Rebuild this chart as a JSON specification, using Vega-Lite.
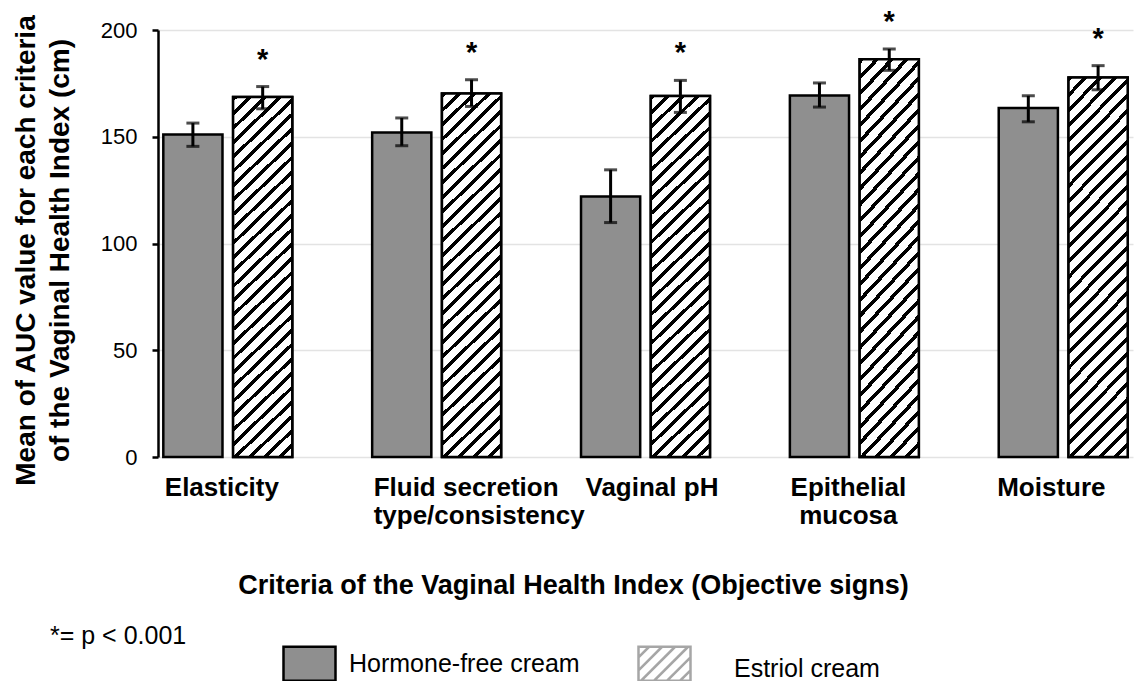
{
  "$schema": "https://vega.github.io/schema/vega-lite/v6.json",
  "width": 975,
  "height": 427,
  "autosize": {"type": "none"},
  "padding": {"left": 158, "top": 30, "right": 2, "bottom": 224},
  "background": "white",
  "config": {"view": {"stroke": null}, "font": "Liberation Sans"},
  "data": {
    "values": [
      {"crit": "Elasticity", "group": "Hormone-free cream", "mean": 151, "lo": 145.5, "hi": 156.4},
      {"crit": "Elasticity", "group": "Estriol cream", "mean": 168.6, "lo": 163.1, "hi": 173.5},
      {"crit": "Fluid secretion type/consistency", "group": "Hormone-free cream", "mean": 152, "lo": 145.8, "hi": 158.8},
      {"crit": "Fluid secretion type/consistency", "group": "Estriol cream", "mean": 170.2, "lo": 164.2, "hi": 176.7},
      {"crit": "Vaginal pH", "group": "Hormone-free cream", "mean": 122, "lo": 109.8, "hi": 134.5},
      {"crit": "Vaginal pH", "group": "Estriol cream", "mean": 169.1, "lo": 161.4, "hi": 176.4},
      {"crit": "Epithelial mucosa", "group": "Hormone-free cream", "mean": 169.3, "lo": 163.9, "hi": 175.2},
      {"crit": "Epithelial mucosa", "group": "Estriol cream", "mean": 186.3, "lo": 181.1, "hi": 191.1},
      {"crit": "Moisture", "group": "Hormone-free cream", "mean": 163.5, "lo": 157, "hi": 169.2},
      {"crit": "Moisture", "group": "Estriol cream", "mean": 177.8, "lo": 172, "hi": 183.3}
    ]
  },
  "encoding": {
    "x": {
      "field": "crit",
      "type": "nominal",
      "sort": null,
      "scale": {"paddingInner": 0.3825, "paddingOuter": 0.0254},
      "axis": {
        "title": "Criteria of the Vaginal Health Index (Objective signs)",
        "domain": false,
        "ticks": false,
        "tickSize": 0,
        "grid": false,
        "labelAngle": 0,
        "labelAlign": {"condition": {"test": "datum.value === 'Epithelial mucosa'", "value": "center"}, "value": "left"},
        "labelOffset": {"condition": [
          {"test": "datum.value === 'Epithelial mucosa'", "value": -6},
          {"test": "datum.value === 'Moisture'", "value": -66},
          {"test": "datum.value === 'Vaginal pH'", "value": -60}
        ], "value": -63},
        "labelBaseline": "top",
        "labelPadding": 17,
        "labelFontSize": 26,
        "labelFontWeight": "bold",
        "labelColor": "black",
        "labelLineHeight": 28.5,
        "labelLimit": 400,
        "labelOverlap": false,
        "labelBound": false,
        "labelExpr": "datum.label === 'Fluid secretion type/consistency' ? ['Fluid secretion', 'type/consistency'] : datum.label === 'Epithelial mucosa' ? ['Epithelial', 'mucosa'] : datum.label",
        "titleFontSize": 27,
        "titleFontWeight": "bold",
        "titleColor": "black",
        "titleX": 415,
        "titleY": 136,
        "titleAlign": "center",
        "titleBaseline": "alphabetic"
      }
    },
    "xOffset": {
      "field": "group",
      "type": "nominal",
      "scale": {"domain": ["Hormone-free cream", "Estriol cream"], "paddingInner": 0.152, "paddingOuter": 0}
    }
  },
  "layer": [
    {
      "mark": {"type": "bar", "stroke": "black", "strokeWidth": 2.5},
      "encoding": {
        "y": {
          "field": "mean",
          "type": "quantitative",
          "title": ["Mean of AUC value for each criteria", "of the Vaginal Health Index (cm)"],
          "scale": {"domain": [0, 200], "nice": false},
          "axis": {
            "values": [0, 50, 100, 150, 200],
            "domain": true,
            "domainColor": "black",
            "domainWidth": 2.5,
            "ticks": true,
            "tickColor": "black",
            "tickWidth": 2.5,
            "tickSize": 6,
            "labelFontSize": 22,
            "labelColor": "black",
            "labelPadding": 15,
            "grid": true,
            "gridColor": "#e3e3e3",
            "gridWidth": 1.5,
            "titleFontSize": 28,
            "titleFontWeight": "bold",
            "titleColor": "black",
            "titleLineHeight": 34,
            "titleAngle": -90,
            "titleX": -132,
            "titleY": 220,
            "titleAlign": "center",
            "titleBaseline": "middle"
          }
        },
        "color": {
          "field": "group",
          "type": "nominal",
          "scale": {"domain": ["Hormone-free cream", "Estriol cream"], "range": ["#8f8f8f", "#ffffff"]},
          "legend": {
            "orient": "none",
            "legendX": -108,
            "legendY": 606,
            "direction": "horizontal",
            "title": "*= p < 0.001",
            "titleOrient": "left",
            "titleAnchor": "start",
            "titleBaseline": "middle",
            "titlePadding": 95,
            "titleFontSize": 25,
            "titleFontWeight": "normal",
            "titleColor": "black",
            "titleLimit": 400,
            "symbolType": "M-1,-0.654H1V0.654H-1Z",
            "symbolSize": 2704,
            "symbolStrokeColor": "black",
            "symbolStrokeWidth": 2.5,
            "symbolOpacity": 1,
            "labelFontSize": 25,
            "labelColor": "black",
            "labelOffset": 12,
            "labelLimit": 400,
            "columnPadding": 53,
            "encode": {
              "symbols": {
                "update": {
                  "shape": {"signal": "datum.value === 'Estriol cream' ? 'M-1,-0.654H1V0.654H-1Z M-1,-0.246L-0.592,-0.654 M-1,0.254L-0.092,-0.654 M-0.9,0.654L0.408,-0.654 M-0.4,0.654L0.908,-0.654 M0.1,0.654L1,-0.246 M0.6,0.654L1,0.254' : 'M-1,-0.654H1V0.654H-1Z'"},
                  "fill": {"signal": "datum.value === 'Estriol cream' ? '#ffffff' : '#8f8f8f'"},
                  "stroke": {"signal": "datum.value === 'Estriol cream' ? '#a6a6a6' : 'black'"}
                }
              },
              "labels": {
                "update": {
                  "dx": {"signal": "datum.value === 'Estriol cream' ? 30 : 0"},
                  "dy": {"signal": "datum.value === 'Estriol cream' ? 5 : 0"}
                }
              }
            }
          }
        }
      }
    },
    {
      "transform": [{"filter": "datum.group === 'Estriol cream'"}],
      "mark": {
        "type": "bar",
        "stroke": "black",
        "strokeWidth": 2.5,
        "fill": {
          "gradient": "linear",
          "x1": 0, "y1": 0, "x2": 0.1793, "y2": 1.13,
          "stops": [
            {"offset": 0, "color": "#000"}, {"offset": 0.0114, "color": "#000"}, {"offset": 0.0114, "color": "#fff"}, {"offset": 0.0345, "color": "#fff"},
            {"offset": 0.0345, "color": "#000"}, {"offset": 0.0459, "color": "#000"}, {"offset": 0.0459, "color": "#fff"}, {"offset": 0.0690, "color": "#fff"},
            {"offset": 0.0690, "color": "#000"}, {"offset": 0.0804, "color": "#000"}, {"offset": 0.0804, "color": "#fff"}, {"offset": 0.1034, "color": "#fff"},
            {"offset": 0.1034, "color": "#000"}, {"offset": 0.1148, "color": "#000"}, {"offset": 0.1148, "color": "#fff"}, {"offset": 0.1379, "color": "#fff"},
            {"offset": 0.1379, "color": "#000"}, {"offset": 0.1493, "color": "#000"}, {"offset": 0.1493, "color": "#fff"}, {"offset": 0.1724, "color": "#fff"},
            {"offset": 0.1724, "color": "#000"}, {"offset": 0.1838, "color": "#000"}, {"offset": 0.1838, "color": "#fff"}, {"offset": 0.2069, "color": "#fff"},
            {"offset": 0.2069, "color": "#000"}, {"offset": 0.2183, "color": "#000"}, {"offset": 0.2183, "color": "#fff"}, {"offset": 0.2414, "color": "#fff"},
            {"offset": 0.2414, "color": "#000"}, {"offset": 0.2528, "color": "#000"}, {"offset": 0.2528, "color": "#fff"}, {"offset": 0.2759, "color": "#fff"},
            {"offset": 0.2759, "color": "#000"}, {"offset": 0.2873, "color": "#000"}, {"offset": 0.2873, "color": "#fff"}, {"offset": 0.3103, "color": "#fff"},
            {"offset": 0.3103, "color": "#000"}, {"offset": 0.3217, "color": "#000"}, {"offset": 0.3217, "color": "#fff"}, {"offset": 0.3448, "color": "#fff"},
            {"offset": 0.3448, "color": "#000"}, {"offset": 0.3562, "color": "#000"}, {"offset": 0.3562, "color": "#fff"}, {"offset": 0.3793, "color": "#fff"},
            {"offset": 0.3793, "color": "#000"}, {"offset": 0.3907, "color": "#000"}, {"offset": 0.3907, "color": "#fff"}, {"offset": 0.4138, "color": "#fff"},
            {"offset": 0.4138, "color": "#000"}, {"offset": 0.4252, "color": "#000"}, {"offset": 0.4252, "color": "#fff"}, {"offset": 0.4483, "color": "#fff"},
            {"offset": 0.4483, "color": "#000"}, {"offset": 0.4597, "color": "#000"}, {"offset": 0.4597, "color": "#fff"}, {"offset": 0.4828, "color": "#fff"},
            {"offset": 0.4828, "color": "#000"}, {"offset": 0.4942, "color": "#000"}, {"offset": 0.4942, "color": "#fff"}, {"offset": 0.5172, "color": "#fff"},
            {"offset": 0.5172, "color": "#000"}, {"offset": 0.5286, "color": "#000"}, {"offset": 0.5286, "color": "#fff"}, {"offset": 0.5517, "color": "#fff"},
            {"offset": 0.5517, "color": "#000"}, {"offset": 0.5631, "color": "#000"}, {"offset": 0.5631, "color": "#fff"}, {"offset": 0.5862, "color": "#fff"},
            {"offset": 0.5862, "color": "#000"}, {"offset": 0.5976, "color": "#000"}, {"offset": 0.5976, "color": "#fff"}, {"offset": 0.6207, "color": "#fff"},
            {"offset": 0.6207, "color": "#000"}, {"offset": 0.6321, "color": "#000"}, {"offset": 0.6321, "color": "#fff"}, {"offset": 0.6552, "color": "#fff"},
            {"offset": 0.6552, "color": "#000"}, {"offset": 0.6666, "color": "#000"}, {"offset": 0.6666, "color": "#fff"}, {"offset": 0.6897, "color": "#fff"},
            {"offset": 0.6897, "color": "#000"}, {"offset": 0.7011, "color": "#000"}, {"offset": 0.7011, "color": "#fff"}, {"offset": 0.7241, "color": "#fff"},
            {"offset": 0.7241, "color": "#000"}, {"offset": 0.7355, "color": "#000"}, {"offset": 0.7355, "color": "#fff"}, {"offset": 0.7586, "color": "#fff"},
            {"offset": 0.7586, "color": "#000"}, {"offset": 0.7700, "color": "#000"}, {"offset": 0.7700, "color": "#fff"}, {"offset": 0.7931, "color": "#fff"},
            {"offset": 0.7931, "color": "#000"}, {"offset": 0.8045, "color": "#000"}, {"offset": 0.8045, "color": "#fff"}, {"offset": 0.8276, "color": "#fff"},
            {"offset": 0.8276, "color": "#000"}, {"offset": 0.8390, "color": "#000"}, {"offset": 0.8390, "color": "#fff"}, {"offset": 0.8621, "color": "#fff"},
            {"offset": 0.8621, "color": "#000"}, {"offset": 0.8735, "color": "#000"}, {"offset": 0.8735, "color": "#fff"}, {"offset": 0.8966, "color": "#fff"},
            {"offset": 0.8966, "color": "#000"}, {"offset": 0.9080, "color": "#000"}, {"offset": 0.9080, "color": "#fff"}, {"offset": 0.9310, "color": "#fff"},
            {"offset": 0.9310, "color": "#000"}, {"offset": 0.9424, "color": "#000"}, {"offset": 0.9424, "color": "#fff"}, {"offset": 0.9655, "color": "#fff"},
            {"offset": 0.9655, "color": "#000"}, {"offset": 0.9769, "color": "#000"}, {"offset": 0.9769, "color": "#fff"}, {"offset": 1, "color": "#fff"}
          ]
        }
      },
      "encoding": {
        "y": {"field": "mean", "type": "quantitative", "title": ["Mean of AUC value for each criteria", "of the Vaginal Health Index (cm)"], "scale": {"domain": [0, 200], "nice": false}}
      }
    },
    {
      "mark": {"type": "rule", "color": "black", "strokeWidth": 3},
      "encoding": {
        "y": {"field": "lo", "type": "quantitative", "title": ["Mean of AUC value for each criteria", "of the Vaginal Health Index (cm)"], "scale": {"domain": [0, 200], "nice": false}},
        "y2": {"field": "hi"}
      }
    },
    {
      "mark": {"type": "tick", "orient": "horizontal", "color": "black", "thickness": 3, "size": 13},
      "encoding": {
        "y": {"field": "hi", "type": "quantitative", "title": ["Mean of AUC value for each criteria", "of the Vaginal Health Index (cm)"], "scale": {"domain": [0, 200], "nice": false}}
      }
    },
    {
      "mark": {"type": "tick", "orient": "horizontal", "color": "black", "thickness": 3, "size": 13},
      "encoding": {
        "y": {"field": "lo", "type": "quantitative", "title": ["Mean of AUC value for each criteria", "of the Vaginal Health Index (cm)"], "scale": {"domain": [0, 200], "nice": false}}
      }
    },
    {
      "transform": [{"filter": "datum.group === 'Estriol cream'"}],
      "mark": {"type": "text", "text": "*", "fontSize": 29, "fontWeight": "bold", "dy": -18, "baseline": "alphabetic", "align": "center", "color": "black"},
      "encoding": {
        "y": {"field": "hi", "type": "quantitative", "title": ["Mean of AUC value for each criteria", "of the Vaginal Health Index (cm)"], "scale": {"domain": [0, 200], "nice": false}}
      }
    }
  ]
}
